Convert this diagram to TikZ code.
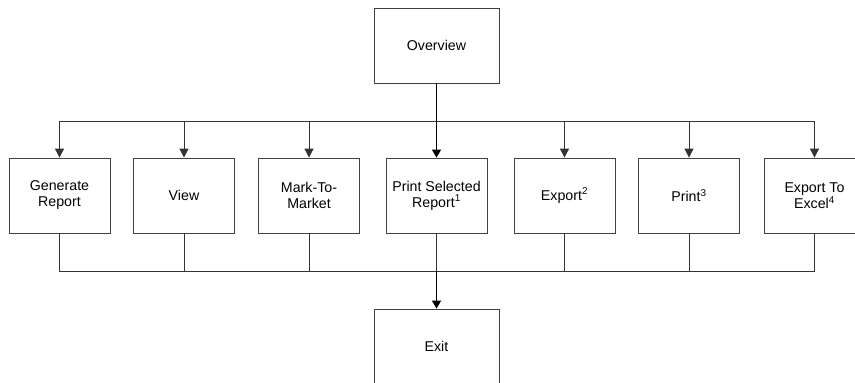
\documentclass[tikz,border=0pt]{standalone}
\usepackage{fontspec}
\setmainfont{Liberation Sans}
\usetikzlibrary{arrows.meta}
\begin{document}
\begin{tikzpicture}[x=1pt,y=-1pt,
  box/.style={draw=black!75,line width=0.8pt,minimum width=101pt,minimum height=75pt,align=center,inner sep=0pt,font=\fontsize{14.2}{16}\selectfont},
  bigbox/.style={box,minimum width=125pt},
  conn/.style={draw=black!80,line width=0.8pt},
  arr/.style={conn,-{Triangle[width=9pt,length=9pt]}},
  main/.style={draw=black,line width=1.6pt},
  mainarr/.style={main,-{Triangle[width=9pt,length=8pt]}}]
\useasboundingbox (0,0) rectangle (855,383);
\node[bigbox] (ov) at (436.5,45.5) {Overview};
\node[box] (b1) at (59.5,195.5) {Generate\\Report};
\node[box] (b2) at (184,195.5) {View};
\node[box] (b3) at (309,195.5) {Mark-To-\\Market};
\node[box] (b4) at (436.5,195.5) {Print Selected\\Report\textsuperscript{1}};
\node[box] (b5) at (564.5,195.5) {Export\textsuperscript{2}};
\node[box] (b6) at (689,195.5) {Print\textsuperscript{3}};
\node[box] (b7) at (814.5,195.5) {Export To\\Excel\textsuperscript{4}};
\node[bigbox] (ex) at (436.5,346.5) {Exit};
\coordinate (top) at (436.5,121);
\coordinate (bot) at (436.5,271);
% top distribution
\draw[main] (ov.south) -- (top);
\foreach \b in {b1,b2,b3,b5,b6,b7}{
  \draw[arr] (top) -| (\b.north);
}
\draw[mainarr] (top) -- (b4.north);
% bottom collection
\foreach \b in {b1,b2,b3,b4,b5,b6,b7}{
  \draw[conn] (\b.south) |- (bot);
}
\draw[mainarr] (bot) -- (ex.north);
\end{tikzpicture}
\end{document}
